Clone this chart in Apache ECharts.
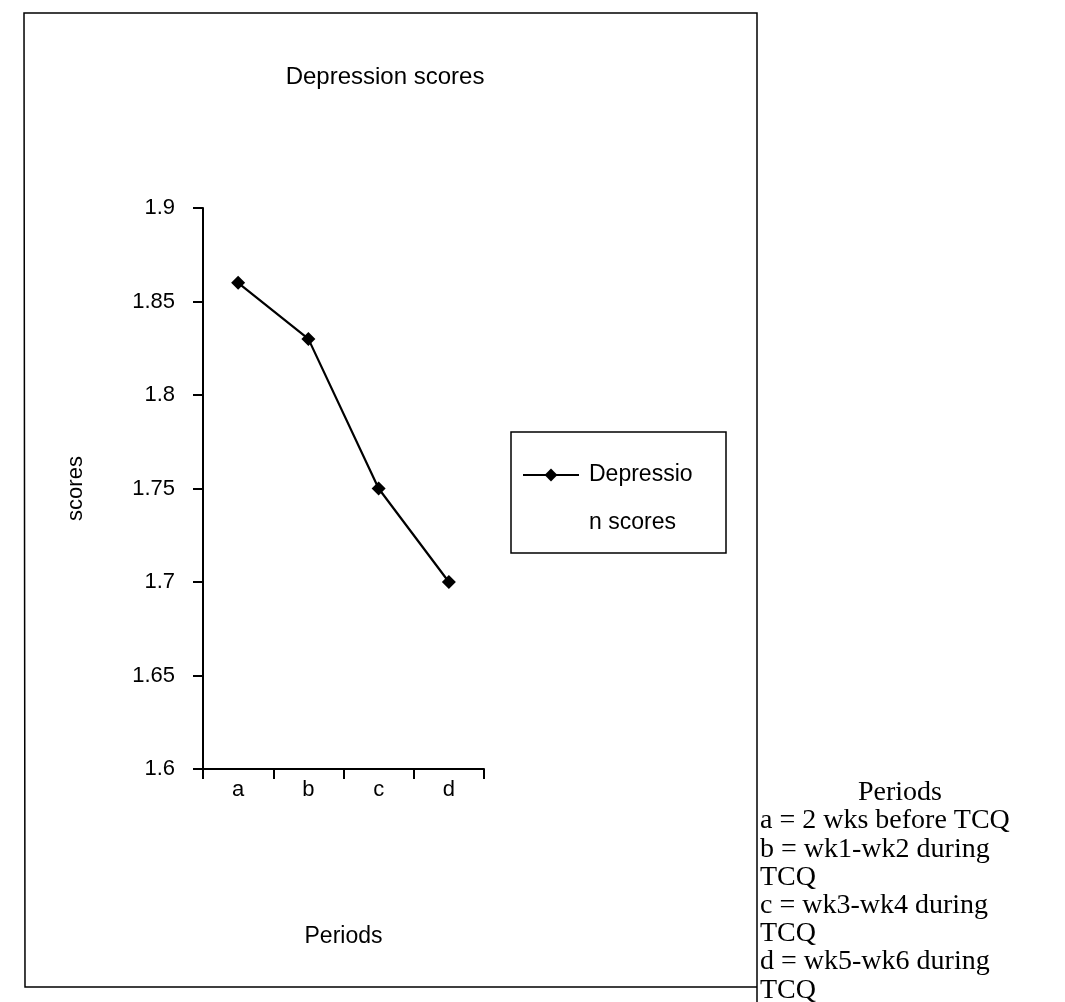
<!DOCTYPE html>
<html>
<head>
<meta charset="utf-8">
<script src="https://cdn.jsdelivr.net/npm/echarts@6/dist/echarts.min.js"></script>
<style>
html,body{margin:0;padding:0;background:#fff;}
#chart{width:1065px;height:1002px;}
</style>
</head>
<body>
<div id="chart"></div>
<script>
var categories = ['a', 'b', 'c', 'd'];
var seriesName = 'Depression scores';
var scores = [1.86, 1.83, 1.75, 1.70];
var yTicks = { min: 1.6, max: 1.9, interval: 0.05 };
var notesTitle = 'Periods';
var notesLines = ['a = 2 wks before TCQ', 'b = wk1-wk2 during', 'TCQ', 'c = wk3-wk4 during', 'TCQ', 'd = wk5-wk6 during', 'TCQ'];

var sans = '"Liberation Sans", Arial, sans-serif';
var serif = '"Liberation Serif", "Times New Roman", serif';

var chart = echarts.init(document.getElementById('chart'), null, { renderer: 'canvas' });

var graphics = [
  // outer frame
  { type: 'polyline', silent: true, shape: { points: [[757, 1002], [757, 13], [24, 13], [25, 987], [757, 987]] },
    style: { stroke: '#000', lineWidth: 1.5, fill: null } },
  // legend box
  { type: 'rect', silent: true, shape: { x: 511, y: 432, width: 215, height: 121 },
    style: { stroke: '#000', lineWidth: 1.5, fill: null } },
  // chart title
  { type: 'text', silent: true, x: 385, y: 77,
    style: { text: 'Depression scores', font: '24px ' + sans, fill: '#000', textAlign: 'center', textVerticalAlign: 'middle' } },
  // notes title
  { type: 'text', silent: true, x: 900, y: 793,
    style: { text: notesTitle, font: '28px ' + serif, fill: '#000', textAlign: 'center', textVerticalAlign: 'middle' } }
];
notesLines.forEach(function (t, i) {
  graphics.push({ type: 'text', silent: true, x: 760, y: 821 + i * 28.2,
    style: { text: t, font: '28px ' + serif, fill: '#000', textAlign: 'left', textVerticalAlign: 'middle' } });
});

chart.setOption({
  backgroundColor: '#fff',
  animation: false,
  grid: { left: 203, right: 581, top: 208, bottom: 233, containLabel: false },
  legend: {
    show: true,
    left: 522, top: 403, padding: 0,
    itemWidth: 56, itemHeight: 16,
    data: [seriesName],
    formatter: function () { return ' \nDepressio\nn scores'; },
    textStyle: { fontFamily: sans, fontSize: 23, color: '#000', lineHeight: 48, padding: [0, 0, 0, 5] }
  },
  xAxis: {
    type: 'category',
    data: categories,
    boundaryGap: true,
    name: 'Periods',
    nameLocation: 'middle',
    nameGap: 156,
    nameTextStyle: { fontFamily: sans, fontSize: 23, color: '#000' },
    axisLine: { lineStyle: { color: '#000', width: 2 } },
    axisTick: { show: true, inside: false, length: 10, lineStyle: { color: '#000', width: 2 } },
    axisLabel: { fontFamily: sans, fontSize: 22, color: '#000', margin: 10 },
    splitLine: { show: false }
  },
  yAxis: {
    type: 'value',
    min: yTicks.min, max: yTicks.max, interval: yTicks.interval,
    name: 'scores',
    nameLocation: 'middle',
    nameGap: 116,
    nameRotate: 90,
    nameTextStyle: { fontFamily: sans, fontSize: 22, color: '#000' },
    axisLine: { show: true, lineStyle: { color: '#000', width: 2 } },
    axisTick: { show: true, inside: false, length: 10, lineStyle: { color: '#000', width: 2 } },
    axisLabel: { fontFamily: sans, fontSize: 22, color: '#000', margin: 28 },
    splitLine: { show: false }
  },
  series: [{
    name: seriesName,
    type: 'line',
    data: scores,
    symbol: 'diamond',
    symbolSize: 14,
    itemStyle: { color: '#000' },
    lineStyle: { color: '#000', width: 2.2 }
  }],
  graphic: graphics
});
</script>
</body>
</html>
